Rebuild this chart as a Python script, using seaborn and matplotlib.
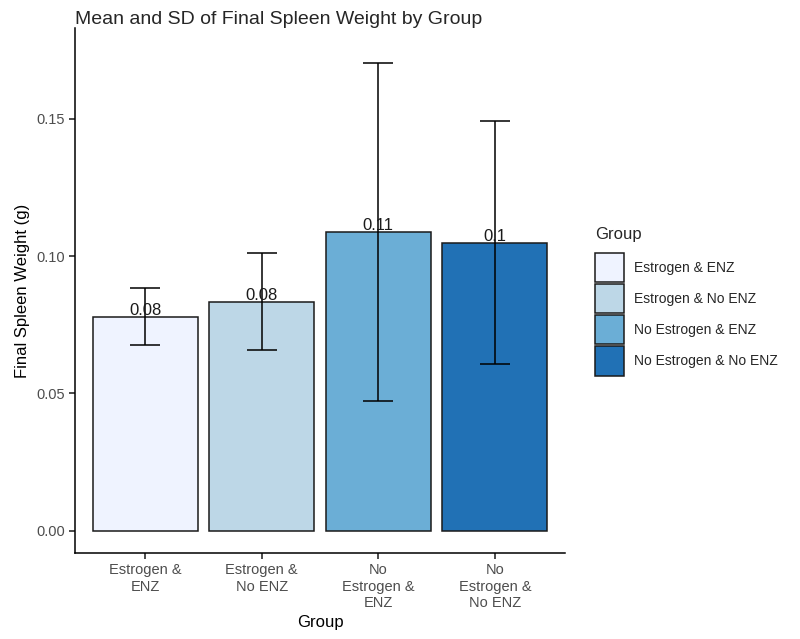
import numpy as np
import pandas as pd
import matplotlib
matplotlib.use("Agg")
import matplotlib.pyplot as plt
import seaborn as sns

# values
groups = ["Estrogen & ENZ", "Estrogen & No ENZ", "No Estrogen & ENZ", "No Estrogen & No ENZ"]
tick_labels = ["Estrogen &\nENZ", "Estrogen &\nNo ENZ", "No\nEstrogen &\nENZ", "No\nEstrogen &\nNo ENZ"]
mean_weight = [0.078, 0.0834, 0.1088, 0.1050]
sd_weight = [0.0105, 0.0176, 0.0617, 0.0442]
bar_labels = ["0.08", "0.08", "0.11", "0.1"]
colors = ["#EFF3FF", "#BDD7E7", "#6BAED6", "#2171B5"]

df = pd.DataFrame({"group": groups, "mean": mean_weight, "sd": sd_weight})

sns.set_theme(style="ticks")
plt.rcParams["font.family"] = ["Liberation Sans", "DejaVu Sans"]

fig = plt.figure(figsize=(8, 6.39), dpi=100)
ax = fig.add_axes([0.094, 0.1346, 0.612, 0.821])

sns.barplot(data=df, x="group", y="mean", hue="group", palette=colors,
            order=groups, hue_order=groups, dodge=False, width=0.9, saturation=1,
            edgecolor="#1a1a1a", linewidth=1.1, errorbar=None, legend=True, ax=ax)

ax.errorbar(np.arange(len(groups)), df["mean"], yerr=df["sd"], fmt="none",
            ecolor="black", elinewidth=1.1, capsize=11, capthick=1.1)

# mean labels sit right on top of each bar
for i, (m, lab) in enumerate(zip(mean_weight, bar_labels)):
    ax.text(i, m - 0.0004, lab, ha="center", va="bottom", fontsize=12, color="#1a1a1a")

ax.set_xlim(-0.6, 3.6)
ax.set_ylim(-0.0081, 0.183)
ax.set_yticks([0.0, 0.05, 0.10, 0.15])
ax.set_yticklabels(["0.00", "0.05", "0.10", "0.15"])
ax.set_xticks(range(len(groups)))
ax.set_xticklabels(tick_labels)
ax.tick_params(axis="both", colors="#333333", labelcolor="#4d4d4d", labelsize=10.5, length=4)
ax.set_xlabel("Group", fontsize=12, color="black")
ax.set_ylabel("Final Spleen Weight (g)", fontsize=12, color="black")
ax.set_title("Mean and SD of Final Spleen Weight by Group", fontsize=14, loc="left", x=0.0, pad=3)
for s in ["left", "bottom"]:
    ax.spines[s].set_color("black")
    ax.spines[s].set_linewidth(1.1)
sns.despine(ax=ax)

handles, labels = ax.get_legend_handles_labels()
ax.legend(handles, labels, title="Group", loc="center left", bbox_to_anchor=(1.05, 0.48),
          frameon=False, fontsize=10, title_fontsize=12, handlelength=2.1, handleheight=2.85,
          handletextpad=0.7, labelspacing=0.15, borderaxespad=0, alignment="left")
ax.get_legend()._legend_box.sep = 8

fig.savefig("out.png", dpi=100)
